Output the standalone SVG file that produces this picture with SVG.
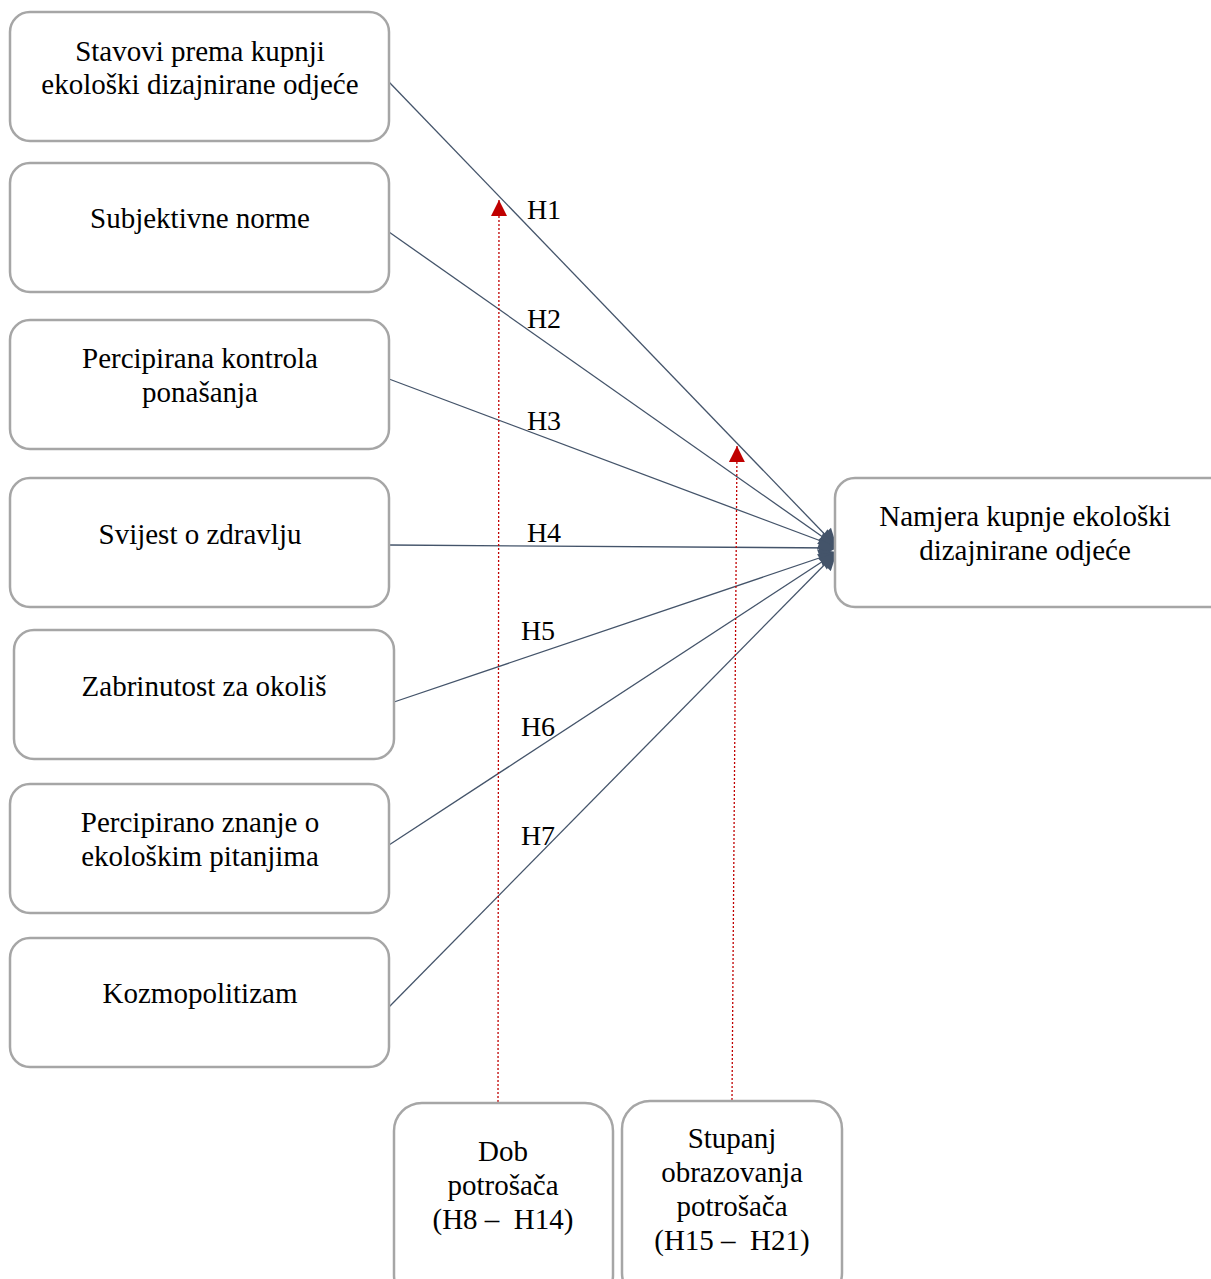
<svg xmlns="http://www.w3.org/2000/svg" width="1211" height="1279" viewBox="0 0 1211 1279">
<style>
.box{fill:#fff;stroke:#a6a6a6;stroke-width:2.5}
.t{font-family:"Liberation Serif","Times New Roman",serif;font-size:29px;fill:#000;text-anchor:middle}
.lbl{font-family:"Liberation Serif","Times New Roman",serif;font-size:28px;fill:#000;text-anchor:middle}
.c{stroke:#44546a;stroke-width:1.3;fill:none}
.r{stroke:#c00000;stroke-width:1.3;stroke-dasharray:2 2;fill:none}
</style>
<defs>
<marker id="ah" viewBox="0 0 10 10" refX="10" refY="5" markerWidth="20" markerHeight="18" markerUnits="userSpaceOnUse" orient="auto"><path d="M0,0 L10,5 L0,10 Z" fill="#44546a"/></marker>
<marker id="rh" viewBox="0 0 10 10" refX="10" refY="5" markerWidth="16" markerHeight="16" markerUnits="userSpaceOnUse" orient="auto"><path d="M0,0 L10,5 L0,10 Z" fill="#c00000"/></marker>
</defs>
<rect width="1211" height="1279" fill="#fff"/>
<g id="connectors">
<line class="c" x1="389" y1="82" x2="837" y2="547" marker-end="url(#ah)"/>
<line class="c" x1="389" y1="232" x2="837" y2="547" marker-end="url(#ah)"/>
<line class="c" x1="389" y1="379" x2="837" y2="547" marker-end="url(#ah)"/>
<line class="c" x1="389" y1="545" x2="837" y2="548" marker-end="url(#ah)"/>
<line class="c" x1="394" y1="702" x2="837" y2="552" marker-end="url(#ah)"/>
<line class="c" x1="389" y1="845" x2="837" y2="552" marker-end="url(#ah)"/>
<line class="c" x1="389" y1="1007" x2="837" y2="552" marker-end="url(#ah)"/>
<line class="r" x1="498" y1="1102" x2="499" y2="200" marker-end="url(#rh)"/>
<line class="r" x1="732" y1="1100" x2="737" y2="446" marker-end="url(#rh)"/>
<text class="lbl" x="544" y="219">H1</text>
<text class="lbl" x="544" y="328">H2</text>
<text class="lbl" x="544" y="430">H3</text>
<text class="lbl" x="544" y="542">H4</text>
<text class="lbl" x="538" y="640">H5</text>
<text class="lbl" x="538" y="736">H6</text>
<text class="lbl" x="538" y="845">H7</text>
</g>
<g id="n1"><rect class="box" x="10" y="12" width="379" height="129" rx="20"/><text class="t" x="200" y="61">Stavovi prema kupnji</text><text class="t" x="200" y="94">ekološki dizajnirane odjeće</text></g>
<g id="n2"><rect class="box" x="10" y="163" width="379" height="129" rx="20"/><text class="t" x="200" y="228">Subjektivne norme</text></g>
<g id="n3"><rect class="box" x="10" y="320" width="379" height="129" rx="20"/><text class="t" x="200" y="368">Percipirana kontrola</text><text class="t" x="200" y="402">ponašanja</text></g>
<g id="n4"><rect class="box" x="10" y="478" width="379" height="129" rx="20"/><text class="t" x="200" y="544">Svijest o zdravlju</text></g>
<g id="n5"><rect class="box" x="14" y="630" width="380" height="129" rx="20"/><text class="t" x="204" y="696">Zabrinutost za okoliš</text></g>
<g id="n6"><rect class="box" x="10" y="784" width="379" height="129" rx="20"/><text class="t" x="200" y="832">Percipirano znanje o</text><text class="t" x="200" y="866">ekološkim pitanjima</text></g>
<g id="n7"><rect class="box" x="10" y="938" width="379" height="129" rx="20"/><text class="t" x="200" y="1003">Kozmopolitizam</text></g>
<g id="target"><rect class="box" x="835" y="478" width="400" height="129" rx="20"/><text class="t" x="1025" y="526">Namjera kupnje ekološki</text><text class="t" x="1025" y="560">dizajnirane odjeće</text></g>
<g id="dob"><rect class="box" x="394" y="1103" width="219" height="200" rx="28"/><text class="t" x="503" y="1161">Dob</text><text class="t" x="503" y="1195">potrošača</text><text class="t" x="503" y="1229">(H8 –&#160; H14)</text></g>
<g id="stupanj"><rect class="box" x="622" y="1101" width="220" height="200" rx="28"/><text class="t" x="732" y="1148">Stupanj</text><text class="t" x="732" y="1182">obrazovanja</text><text class="t" x="732" y="1216">potrošača</text><text class="t" x="732" y="1250">(H15 –&#160; H21)</text></g>
</svg>
